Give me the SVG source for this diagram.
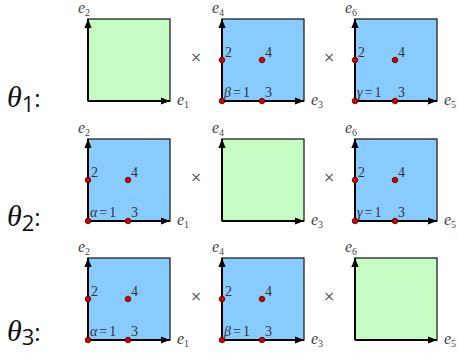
<svg xmlns="http://www.w3.org/2000/svg" width="458" height="353" viewBox="0 0 458 353">
<defs>
<style>
.g{fill:#c4fcc4;stroke:#222;stroke-width:1.3}
.b{fill:#88ccff;stroke:#222;stroke-width:1.3}
.ax{stroke:#000;stroke-width:2;fill:none}
.d{fill:#d40000;stroke:#550000;stroke-width:0.8}
.n{font-family:"Liberation Serif",serif;font-size:14px;fill:#333}
.e{font-family:"Liberation Serif",serif;font-style:italic;font-size:16px;fill:#444}
.es{font-size:10px;font-style:normal}
.x{font-family:"DejaVu Sans",sans-serif;font-size:14px;fill:#555;text-anchor:middle}
.t{font-family:"Liberation Serif",serif;font-style:italic;font-size:30px;fill:#111}
.ts{font-family:"Open Sans",sans-serif;font-style:normal;font-size:22px}
.tc{font-family:"Open Sans",sans-serif;font-style:normal;font-size:24px}
</style>
<marker id="ah" viewBox="0 0 10 8" refX="10" refY="4" markerWidth="5" markerHeight="3.6" orient="auto" markerUnits="strokeWidth">
<path d="M0,0 L10,4 L0,8 Z" fill="#000"/>
</marker>
</defs>

<g id="labels">
<text class="t" x="7" y="107">θ<tspan class="ts" dy="5">1</tspan><tspan class="tc" dy="-5">:</tspan></text>
<text class="t" x="7" y="226">θ<tspan class="ts" dy="5">2</tspan><tspan class="tc" dy="-5">:</tspan></text>
<text class="t" x="7" y="341">θ<tspan class="ts" dy="4">3</tspan><tspan class="tc" dy="-4">:</tspan></text>
</g>

<g id="times">
<text class="x" x="196" y="62">×</text>
<text class="x" x="329" y="62">×</text>
<text class="x" x="196" y="182">×</text>
<text class="x" x="329" y="182">×</text>
<text class="x" x="196" y="301">×</text>
<text class="x" x="329" y="301">×</text>
</g>

<!-- Row 1 -->
<g id="r1s1">
<rect class="g" x="88" y="19" width="82" height="82"/>
<line class="ax" x1="88" y1="101" x2="170" y2="101" marker-end="url(#ah)"/>
<line class="ax" x1="88" y1="101" x2="88" y2="19" marker-end="url(#ah)"/>
<text class="e" x="177" y="105">e<tspan class="es" dy="3">1</tspan></text>
<text class="e" x="78" y="13">e<tspan class="es" dy="3">2</tspan></text>
</g>
<g id="r1s2">
<rect class="b" x="222" y="19" width="82" height="82"/>
<line class="ax" x1="222" y1="101" x2="304" y2="101" marker-end="url(#ah)"/>
<line class="ax" x1="222" y1="101" x2="222" y2="19" marker-end="url(#ah)"/>
<circle class="d" cx="222" cy="101" r="2.8"/><circle class="d" cx="222" cy="60" r="2.8"/>
<circle class="d" cx="262" cy="101" r="2.8"/><circle class="d" cx="262" cy="60" r="2.8"/>
<text class="n" x="225" y="57">2</text><text class="n" x="265" y="57">4</text>
<text class="n" x="224" y="97"><tspan font-style="italic">β</tspan><tspan dx="2">=</tspan><tspan dx="2">1</tspan></text><text class="n" x="265" y="97">3</text>
<text class="e" x="311" y="105">e<tspan class="es" dy="3">3</tspan></text>
<text class="e" x="212" y="13">e<tspan class="es" dy="3">4</tspan></text>
</g>
<g id="r1s3">
<rect class="b" x="355" y="19" width="82" height="82"/>
<line class="ax" x1="355" y1="101" x2="437" y2="101" marker-end="url(#ah)"/>
<line class="ax" x1="355" y1="101" x2="355" y2="19" marker-end="url(#ah)"/>
<circle class="d" cx="355" cy="101" r="2.8"/><circle class="d" cx="355" cy="60" r="2.8"/>
<circle class="d" cx="395" cy="101" r="2.8"/><circle class="d" cx="395" cy="60" r="2.8"/>
<text class="n" x="358" y="57">2</text><text class="n" x="398" y="57">4</text>
<text class="n" x="357" y="97"><tspan font-style="italic">γ</tspan><tspan dx="2">=</tspan><tspan dx="2">1</tspan></text><text class="n" x="398" y="97">3</text>
<text class="e" x="444" y="105">e<tspan class="es" dy="3">5</tspan></text>
<text class="e" x="345" y="13">e<tspan class="es" dy="3">6</tspan></text>
</g>

<!-- Row 2 -->
<g id="r2s1">
<rect class="b" x="88" y="139" width="82" height="82"/>
<line class="ax" x1="88" y1="221" x2="170" y2="221" marker-end="url(#ah)"/>
<line class="ax" x1="88" y1="221" x2="88" y2="139" marker-end="url(#ah)"/>
<circle class="d" cx="88" cy="221" r="2.8"/><circle class="d" cx="88" cy="180" r="2.8"/>
<circle class="d" cx="128" cy="221" r="2.8"/><circle class="d" cx="128" cy="180" r="2.8"/>
<text class="n" x="91" y="177">2</text><text class="n" x="131" y="177">4</text>
<text class="n" x="90" y="217"><tspan font-style="italic">α</tspan><tspan dx="2">=</tspan><tspan dx="2">1</tspan></text><text class="n" x="131" y="217">3</text>
<text class="e" x="177" y="225">e<tspan class="es" dy="3">1</tspan></text>
<text class="e" x="78" y="133">e<tspan class="es" dy="3">2</tspan></text>
</g>
<g id="r2s2">
<rect class="g" x="222" y="139" width="82" height="82"/>
<line class="ax" x1="222" y1="221" x2="304" y2="221" marker-end="url(#ah)"/>
<line class="ax" x1="222" y1="221" x2="222" y2="139" marker-end="url(#ah)"/>
<text class="e" x="311" y="225">e<tspan class="es" dy="3">3</tspan></text>
<text class="e" x="212" y="133">e<tspan class="es" dy="3">4</tspan></text>
</g>
<g id="r2s3">
<rect class="b" x="355" y="139" width="82" height="82"/>
<line class="ax" x1="355" y1="221" x2="437" y2="221" marker-end="url(#ah)"/>
<line class="ax" x1="355" y1="221" x2="355" y2="139" marker-end="url(#ah)"/>
<circle class="d" cx="355" cy="221" r="2.8"/><circle class="d" cx="355" cy="180" r="2.8"/>
<circle class="d" cx="395" cy="221" r="2.8"/><circle class="d" cx="395" cy="180" r="2.8"/>
<text class="n" x="358" y="177">2</text><text class="n" x="398" y="177">4</text>
<text class="n" x="357" y="217"><tspan font-style="italic">γ</tspan><tspan dx="2">=</tspan><tspan dx="2">1</tspan></text><text class="n" x="398" y="217">3</text>
<text class="e" x="444" y="225">e<tspan class="es" dy="3">5</tspan></text>
<text class="e" x="345" y="133">e<tspan class="es" dy="3">6</tspan></text>
</g>

<!-- Row 3 -->
<g id="r3s1">
<rect class="b" x="88" y="258" width="82" height="82"/>
<line class="ax" x1="88" y1="340" x2="170" y2="340" marker-end="url(#ah)"/>
<line class="ax" x1="88" y1="340" x2="88" y2="258" marker-end="url(#ah)"/>
<circle class="d" cx="88" cy="340" r="2.8"/><circle class="d" cx="88" cy="299" r="2.8"/>
<circle class="d" cx="128" cy="340" r="2.8"/><circle class="d" cx="128" cy="299" r="2.8"/>
<text class="n" x="91" y="296">2</text><text class="n" x="131" y="296">4</text>
<text class="n" x="90" y="336"><tspan font-style="italic">α</tspan><tspan dx="2">=</tspan><tspan dx="2">1</tspan></text><text class="n" x="131" y="336">3</text>
<text class="e" x="177" y="344">e<tspan class="es" dy="3">1</tspan></text>
<text class="e" x="78" y="252">e<tspan class="es" dy="3">2</tspan></text>
</g>
<g id="r3s2">
<rect class="b" x="222" y="258" width="82" height="82"/>
<line class="ax" x1="222" y1="340" x2="304" y2="340" marker-end="url(#ah)"/>
<line class="ax" x1="222" y1="340" x2="222" y2="258" marker-end="url(#ah)"/>
<circle class="d" cx="222" cy="340" r="2.8"/><circle class="d" cx="222" cy="299" r="2.8"/>
<circle class="d" cx="262" cy="340" r="2.8"/><circle class="d" cx="262" cy="299" r="2.8"/>
<text class="n" x="225" y="296">2</text><text class="n" x="265" y="296">4</text>
<text class="n" x="224" y="336"><tspan font-style="italic">β</tspan><tspan dx="2">=</tspan><tspan dx="2">1</tspan></text><text class="n" x="265" y="336">3</text>
<text class="e" x="311" y="344">e<tspan class="es" dy="3">3</tspan></text>
<text class="e" x="212" y="252">e<tspan class="es" dy="3">4</tspan></text>
</g>
<g id="r3s3">
<rect class="g" x="355" y="258" width="82" height="82"/>
<line class="ax" x1="355" y1="340" x2="437" y2="340" marker-end="url(#ah)"/>
<line class="ax" x1="355" y1="340" x2="355" y2="258" marker-end="url(#ah)"/>
<text class="e" x="444" y="344">e<tspan class="es" dy="3">5</tspan></text>
<text class="e" x="345" y="252">e<tspan class="es" dy="3">6</tspan></text>
</g>
</svg>
